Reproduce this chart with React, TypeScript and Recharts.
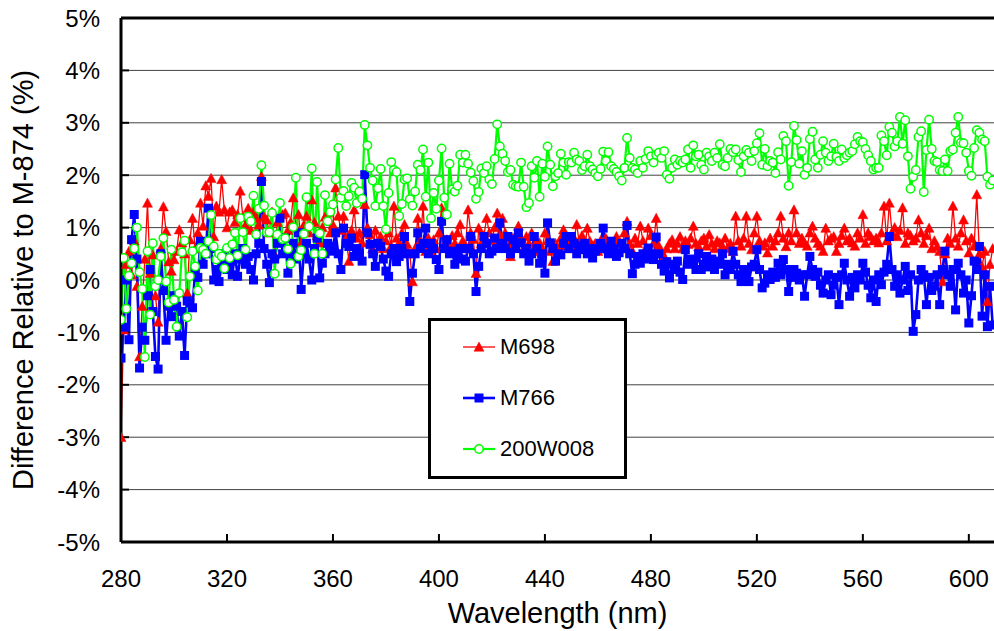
import { CartesianGrid, Legend, Line, LineChart, ReferenceLine, XAxis, YAxis } from 'recharts';

// wavelength, 1 nm steps from 280 to 609
const START_NM = 280;

// % difference relative to M-874
const m698 = [
  -3.0, -0.95, 0.3, 0.55, 0.1, 0.75, -0.12, -1.46, -0.5, 0.4,
  1.47, 0.13, 0.48, -0.3, -0.8, 0.6, 1.4, 0.93, 0.35, 0.17,
  0.39, 0.55, 0.96, 0.71, 0.5, -0.25, 0.77, 1.18, 0.6, 0.9,
  1.47, 1.03, 1.8, 1.6, 1.94, 0.83, 1.41, 1.3, 1.92, 1.34,
  1.0, 1.3, 1.34, 1.1, 1.25, 1.7, 1.2, 1.05, 1.37, 0.95,
  1.3, 1.18, 1.05, 1.98, 1.2, 1.15, 0.9, 1.3, 0.48, 1.1,
  0.85, 1.25, 1.28, 0.95, 1.1, 1.57, 1.0, 1.25, 0.7, 1.05,
  1.22, 0.9, 1.53, 1.1, 0.85, 0.71, 1.0, 1.2, 1.28, 0.9,
  1.05, 1.76, 1.22, 0.95, 1.22, 0.8, 0.36, 0.95, 1.34, 0.8,
  0.9, 0.71, 1.44, 1.0, 0.87, 0.6, 0.95, 0.7, 0.83, 0.6,
  0.75, 0.9, 0.65, 1.41, 0.8, 0.71, 0.9, 1.06, 0.68, 0.5,
  -0.03, 0.6, 1.18, 0.75, 1.41, 0.55, 0.8, 0.55, 0.77, 0.6,
  0.9, 1.38, 0.65, 0.77, 0.6, 0.85, 0.7, 0.9, 1.06, 0.75,
  0.6, 1.34, 0.9, 0.78, 0.13, 0.99, 0.7, 0.85, 1.18, 0.9,
  0.75, 1.0, 1.28, 0.85, 1.18, 0.9, 0.7, 0.45, 0.8, 0.65,
  1.03, 0.8, 0.6, 0.83, 0.7, 0.9, 0.55, 0.74, 0.71, 0.6,
  0.9, 0.75, 0.55, 0.36, 0.7, 0.6, 0.8, 0.96, 0.65, 0.75,
  0.6, 0.8, 1.06, 0.7, 0.85, 0.6, 0.99, 0.74, 0.65, 0.7,
  0.55, 0.75, 0.6, 0.8, 0.58, 0.7, 0.65, 0.83, 0.75, 0.6,
  0.9, 1.12, 0.7, 0.55, 0.8, 0.7, 1.03, 0.75, 0.6, 0.99,
  0.85, 0.7, 1.18, 0.65, 0.55, 0.45, 0.6, 0.7, 0.77, 0.6,
  0.7, 0.83, 0.6, 0.75, 0.68, 0.8, 1.03, 0.7, 0.64, 0.75,
  0.8, 0.65, 0.87, 0.7, 0.6, 0.75, 0.71, 0.65, 0.8, 0.6,
  0.7, 0.55, 1.22, 0.75, 0.65, 0.8, 1.22, 0.7, 0.58, 0.9,
  1.22, 0.75, 0.65, 0.71, 0.52, 0.8, 0.65, 0.75, 0.9, 1.22,
  0.8, 0.64, 0.9, 0.75, 1.34, 0.9, 0.7, 0.8, 0.71, 0.65,
  0.9, 1.03, 0.8, 0.7, 0.65, 0.55, 0.99, 0.75, 0.8, 0.83,
  0.55, 0.7, 0.85, 0.99, 0.75, 0.8, 0.71, 0.65, 0.9, 0.8,
  1.25, 0.7, 0.9, 0.83, 0.75, 0.8, 0.71, 0.9, 1.41, 0.75,
  1.47, 0.9, 1.0, 0.83, 0.95, 1.38, 0.7, 0.9, 0.85, 0.75,
  0.8, 1.15, 0.9, 0.7, 0.85, 0.99, 0.6, 0.75, 0.64, 0.55,
  -0.03, 0.5, 0.8, 0.7, 1.41, 0.8, 0.65, 0.9, 1.15, 0.75,
  0.52, 0.8, 0.65, 1.63, 0.5, 0.26, 0.55, -0.41, 0.3, 0.6,
];

const m766 = [
  -1.49, -0.9, 0.0, -1.14, 0.77, 1.25, 0.4, -1.68, -0.9, -1.15,
  -0.3, 0.2, -0.6, -1.46, -1.7, 0.5, -0.2, -1.15, -0.5, -0.7,
  -0.3, -0.5, -1.07, -0.6, -1.44, -0.4, -0.44, -0.53, 0.2, 0.05,
  0.74, 0.3, 0.5, 1.37, 0.6, 0.0, 0.2, -0.03, 0.3, 0.5,
  0.2, 0.35, 0.1, 0.5, 0.07, 0.4, 0.6, 0.3, 0.45, 0.2,
  0.0, 0.5, 0.7, 1.88, 0.6, 0.3, -0.05, 0.5, 0.4, 0.7,
  1.18, 0.5, 0.8, 0.13, 0.5, 0.7, 0.4, 0.9, -0.18, 0.5,
  0.7, 0.4, 0.0, 0.6, 0.8, 0.04, 0.32, 0.5, 0.7, 0.55,
  0.64, 0.9, 0.5, 0.2, 0.99, 0.7, 0.64, 0.8, 0.45, 0.6,
  0.5, 0.36, 2.01, 0.9, 0.68, 0.5, 0.26, 0.7, 0.64, 0.4,
  0.17, 0.07, 0.5, 0.6, 0.35, 0.45, 0.6, 0.83, 0.5, -0.41,
  0.13, 0.5, 0.9, 0.6, 0.7, 0.99, 0.5, 0.7, 0.6, 0.39,
  0.2, 1.12, 0.6, 0.77, 0.5, 0.55, 0.3, 0.45, 0.6, 0.4,
  0.36, 0.6, 0.83, 0.5, -0.22, 0.26, 0.6, 0.83, 0.7, 0.5,
  0.55, 0.8, 0.6, 1.09, 0.7, 0.6, 0.83, 0.5, 0.77, 0.6,
  0.9, 0.71, 0.5, 0.6, 0.36, 0.5, 0.83, 0.6, 0.32, 0.5,
  0.13, 1.09, 0.71, 0.6, 0.36, 0.5, 0.48, 0.7, 0.83, 0.6,
  0.83, 0.7, 0.5, 0.65, 0.58, 0.7, 0.5, 0.6, 0.42, 0.55,
  0.6, 0.7, 0.99, 0.6, 0.5, 0.74, 0.6, 0.45, 0.52, 0.7,
  0.6, 1.04, 0.5, 0.12, 0.3, 0.45, 0.32, 0.5, 0.4, 0.61,
  0.5, 0.39, 0.82, 0.5, 0.3, 0.17, 0.35, 0.04, 0.3, 0.2,
  0.36, 0.15, 0.01, 0.58, 0.3, 0.4, 0.36, 0.2, 0.5, 0.2,
  0.3, 0.45, 0.25, 0.4, 0.2, 0.36, 0.3, 0.5, 0.1, 0.3,
  0.2, 0.55, 0.3, 0.1, -0.03, 0.2, 0.1, -0.03, 0.25, 0.3,
  0.58, 0.2, -0.15, -0.06, 0.1, 0.01, 0.15, 0.05, 0.32, 0.1,
  0.39, 0.2, -0.22, 0.05, 0.2, 0.13, 0.0, 0.1, -0.31, 0.1,
  0.45, 0.2, 0.07, 0.15, -0.1, -0.25, 0.0, 0.1, -0.28, -0.1,
  0.05, -0.47, 0.1, 0.32, 0.0, -0.31, 0.05, -0.15, 0.1, 0.0,
  0.32, 0.15, -0.1, -0.34, 0.0, -0.41, 0.1, -0.09, 0.15, 0.3,
  0.83, 0.2, -0.12, 0.1, -0.25, 0.0, 0.26, -0.2, 0.1, -0.98,
  -0.66, 0.0, 0.2, 0.1, -0.47, 0.05, -0.2, -0.12, 0.1, -0.47,
  0.2, 0.55, 0.1, -0.12, 0.2, -0.57, 0.32, 0.1, -0.25, 0.0,
  -0.82, -0.3, 0.36, 0.2, 0.64, -0.69, 0.1, -0.89, -0.12, -0.86,
];

const w200 = [
  -0.76, 0.42, -0.55, 0.08, 0.32, 0.6, 1.0, 0.15, -0.17, -1.47,
  0.55, -0.66, 0.7, -0.12, 0.0, 0.45, 0.8, -0.03, -0.43, 0.58,
  -0.38, -0.89, -0.25, 0.53, 0.75, -0.71, 0.07, 0.55, 0.26, -0.2,
  0.61, 0.58, 0.5, 0.74, 1.24, 0.64, 0.39, 0.5, 0.45, 0.22,
  0.61, 0.42, 0.68, 0.9, 0.47, 1.18, 0.91, 0.58, 1.21, 1.12,
  1.61, 0.87, 1.36, 2.19, 1.42, 0.91, 0.91, 1.28, 0.12, 0.87,
  1.47, 0.78, 0.8, 0.59, 0.31, 1.01, 1.95, 0.45, 0.57, 0.88,
  1.58, 1.02, 2.13, 0.5, 1.87, 0.89, 0.5, 1.62, 1.12, 1.3,
  1.44, 1.92, 2.52, 1.57, 1.7, 1.41, 1.6, 1.85, 1.76, 1.47,
  1.69, 1.55, 2.96, 2.57, 2.14, 1.9, 1.41, 1.75, 2.12, 1.41,
  0.97, 1.66, 2.25, 2.1, 2.06, 1.22, 1.45, 1.92, 1.94, 1.54,
  1.42, 1.69, 2.2, 2.1, 2.49, 1.59, 2.24, 1.18, 1.66, 1.36,
  1.9, 2.51, 1.57, 1.25, 2.22, 1.73, 1.69, 1.8, 2.39, 2.24,
  2.39, 2.22, 2.05, 1.89, 1.55, 1.68, 2.13, 2.04, 2.17, 1.92,
  1.83, 2.31, 2.97, 2.55, 2.41, 2.27, 2.06, 2.1, 1.82, 1.79,
  1.78, 2.24, 1.78, 1.39, 1.47, 2.17, 1.95, 2.27, 1.59, 2.22,
  1.97, 2.55, 2.2, 1.79, 1.98, 2.04, 2.41, 2.24, 2.01, 2.25,
  2.24, 2.43, 2.3, 2.27, 2.1, 2.17, 2.39, 2.17, 2.11, 2.04,
  1.98, 2.12, 2.45, 2.27, 2.44, 2.17, 2.12, 2.06, 1.98, 1.9,
  2.14, 2.71, 2.33, 2.14, 2.11, 2.04, 2.27, 2.14, 2.31, 2.46,
  2.36, 2.24, 2.39, 2.43, 2.33, 2.46, 2.01, 1.93, 2.14, 2.3,
  2.2, 2.27, 2.24, 2.3, 2.49, 2.14, 2.57, 2.36, 2.39, 2.2,
  2.11, 2.43, 2.36, 2.27, 2.43, 2.33, 2.59, 2.2, 2.17, 2.33,
  2.5, 2.44, 2.49, 2.29, 2.06, 2.36, 2.48, 2.43, 2.27, 2.46,
  2.61, 2.8, 2.2, 2.5, 2.17, 2.27, 2.24, 2.04, 2.44, 2.3,
  2.75, 2.65, 1.8, 2.25, 2.94, 2.67, 2.22, 2.46, 2.01, 2.14,
  2.69, 2.83, 2.3, 2.14, 2.39, 2.65, 2.43, 2.27, 2.36, 2.6,
  2.35, 2.27, 2.49, 2.33, 2.38, 2.43, 2.46, 2.59, 2.73, 2.65,
  2.63, 2.5, 2.38, 2.27, 2.11, 2.14, 2.14, 2.76, 2.65, 2.38,
  2.92, 2.81, 2.55, 2.65, 3.11, 2.6, 3.05, 2.36, 1.74, 1.97,
  2.1, 2.73, 2.84, 1.68, 2.48, 3.06, 2.5, 2.27, 2.25, 2.1,
  2.08, 2.3, 2.08, 2.46, 2.49, 2.81, 3.11, 2.62, 2.61, 2.43,
  2.08, 1.99, 2.52, 2.86, 2.81, 2.68, 2.65, 1.97, 1.82, 1.9,
];

const xTicks = [280, 320, 360, 400, 440, 480, 520, 560, 600];
const yTicks = [-5, -4, -3, -2, -1, 0, 1, 2, 3, 4, 5];

const data = m698.map((v, i) => ({
  nm: START_NM + i,
  m698: v,
  m766: m766[i],
  w200: w200[i],
}));

const FONT = '"Liberation Sans", Arial, sans-serif';

function Triangle({ cx, cy, size = 5 }: { cx: number; cy: number; size?: number }) {
  return (
    <polygon
      points={`${cx},${cy - size} ${cx - size},${cy + size * 0.85} ${cx + size},${cy + size * 0.85}`}
      fill="#ff0000"
      stroke="#ff0000"
      strokeWidth={0.5}
    />
  );
}

function Square({ cx, cy, size = 4.5 }: { cx: number; cy: number; size?: number }) {
  return <rect x={cx - size} y={cy - size} width={size * 2} height={size * 2} fill="#0000ff" />;
}

function Ring({ cx, cy }: { cx: number; cy: number }) {
  return <circle cx={cx} cy={cy} r={4.2} fill="#ffffff" stroke="#00ff00" strokeWidth={1.5} />;
}

const SERIES = [
  { key: 'm698', name: 'M698', color: '#ff0000', width: 1.3 },
  { key: 'm766', name: 'M766', color: '#0000ff', width: 2.6 },
  { key: 'w200', name: '200W008', color: '#00ff00', width: 2.2 },
];

function LegendBox() {
  return (
    <div
      style={{
        width: 193,
        height: 155,
        border: '3px solid #000',
        background: '#fff',
        fontFamily: FONT,
        fontSize: 22,
        color: '#000',
        position: 'relative',
      }}
    >
      {SERIES.map((s, i) => (
        <div
          key={s.key}
          style={{ position: 'absolute', left: 31, top: 13 + i * 51, height: 26, display: 'flex', alignItems: 'center' }}
        >
          <svg width={34} height={16} style={{ marginRight: 4 }}>
            <line x1={1} y1={8} x2={33} y2={8} stroke={s.color} strokeWidth={s.width} />
            {i === 0 && <Triangle cx={17} cy={8} size={5} />}
            {i === 1 && <Square cx={17} cy={8} size={4.5} />}
            {i === 2 && <Ring cx={17} cy={8} />}
          </svg>
          <span>{s.name}</span>
        </div>
      ))}
    </div>
  );
}

export default function App() {
  return (
    <div style={{ position: 'absolute', left: 0, top: 0, width: 994, height: 631, background: '#fff' }}>
      <LineChart width={994} height={631} data={data} margin={{ top: 18, right: 0, bottom: 0, left: 0 }} style={{ fontFamily: FONT }}>
        <CartesianGrid horizontal vertical={false} stroke="#404040" strokeWidth={1} />
        <XAxis
          dataKey="nm"
          type="number"
          domain={[280, 609.5]}
          allowDataOverflow
          ticks={xTicks}
          height={89}
          tickSize={-8}
          tickMargin={36}
          tick={{ fontSize: 24, fill: '#000' }}
          axisLine={{ stroke: '#000', strokeWidth: 3 }}
          tickLine={{ stroke: '#000', strokeWidth: 2 }}
          label={{ value: 'Wavelength (nm)', position: 'insideBottom', offset: 8, style: { fontSize: 29, fill: '#000' } }}
        />
        <YAxis
          type="number"
          domain={[-5, 5]}
          ticks={yTicks}
          width={121}
          tickSize={-8}
          tickMargin={29}
          tickFormatter={(v: number) => `${v}%`}
          tick={{ fontSize: 24, fill: '#000' }}
          axisLine={{ stroke: '#000', strokeWidth: 3 }}
          tickLine={{ stroke: '#000', strokeWidth: 2 }}
          label={{
            value: 'Difference Relative to M-874 (%)',
            angle: -90,
            position: 'insideLeft',
            offset: 23,
            style: { textAnchor: 'middle', fontSize: 29, fill: '#000' },
          }}
        />
        <ReferenceLine y={5} stroke="#000" strokeWidth={3} />
        <Line
          dataKey="m698"
          name="M698"
          type="linear"
          stroke="#ff0000"
          strokeWidth={1.3}
          isAnimationActive={false}
          dot={(p: any) => <Triangle key={`r${p.index}`} cx={p.cx} cy={p.cy} />}
          activeDot={false}
        />
        <Line
          dataKey="m766"
          name="M766"
          type="linear"
          stroke="#0000ff"
          strokeWidth={2.6}
          isAnimationActive={false}
          dot={(p: any) => <Square key={`b${p.index}`} cx={p.cx} cy={p.cy} />}
          activeDot={false}
        />
        <Line
          dataKey="w200"
          name="200W008"
          type="linear"
          stroke="#00ff00"
          strokeWidth={2.2}
          isAnimationActive={false}
          dot={(p: any) => <Ring key={`g${p.index}`} cx={p.cx} cy={p.cy} />}
          activeDot={false}
        />
        <Legend
          layout="horizontal"
          verticalAlign="middle"
          align="center"
          content={() => <LegendBox />}
          wrapperStyle={{ left: 428, top: 318, width: 199, height: 161 }}
        />
      </LineChart>
    </div>
  );
}
